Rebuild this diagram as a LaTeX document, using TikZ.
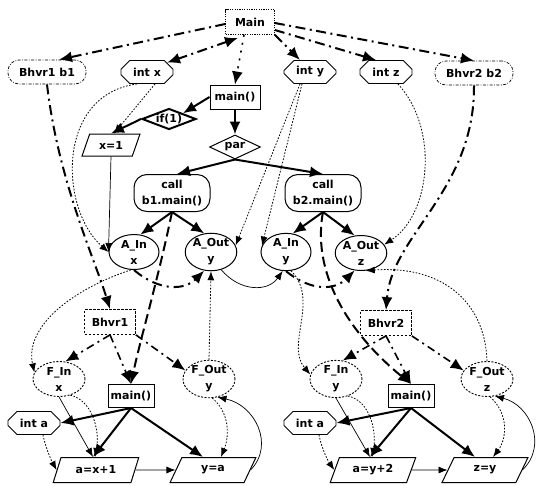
\documentclass[tikz,border=0pt]{standalone}
\usepackage{fontspec}
\setmainfont{DejaVu Sans}
\usetikzlibrary{arrows.meta,shapes.geometric,shapes.misc}
\begin{document}
\begin{tikzpicture}[x=1pt,y=1pt,
  font=\bfseries\fontsize{11}{16}\selectfont,
  mainbox/.style={draw,line width=0.7pt,dash pattern=on 1.2pt off 1.2pt,minimum width=49pt,minimum height=25pt,inner sep=1pt},
  instbox/.style={draw,line width=0.7pt,rounded corners=11pt,dash pattern=on 3pt off 1.5pt on 0.8pt off 1.5pt,minimum width=78pt,minimum height=24pt,inner sep=1pt},
  varbox/.style={draw,line width=0.9pt,chamfered rectangle,chamfered rectangle xsep=8pt,minimum width=52pt,minimum height=23pt,inner sep=1pt},
  fbox/.style={draw,line width=1pt,minimum width=50pt,minimum height=24pt,inner sep=1pt},
  lfbox/.style={fbox,minimum width=46pt,minimum height=23pt},
  ifd/.style={diamond,draw,line width=2pt,aspect=2.6,minimum width=54pt,minimum height=21pt,inner sep=0pt},
  pard/.style={diamond,draw,line width=1pt,aspect=2.1,minimum width=51pt,minimum height=24pt,inner sep=0pt},
  stmtbox/.style={trapezium,trapezium left angle=65,trapezium right angle=115,trapezium stretches=true,draw,line width=1pt,minimum width=58pt,minimum height=22pt,inner sep=1pt},
  stmtlow/.style={stmtbox,minimum width=86pt,minimum height=25pt},
  callbox/.style={draw,line width=1pt,rounded corners=13pt,minimum width=76pt,minimum height=37pt,align=center,inner sep=1pt},
  aport/.style={ellipse,draw,line width=1pt,minimum width=50pt,minimum height=35pt,inner sep=0pt,align=center},
  fport/.style={ellipse,draw,line width=0.9pt,dash pattern=on 2pt off 1.5pt,minimum width=52pt,minimum height=35pt,inner sep=0pt,align=center},
  bhbox/.style={draw,line width=0.8pt,dash pattern=on 2.5pt off 1.5pt,minimum width=51pt,minimum height=25pt,inner sep=1pt},
  bigtip/.style={-{Latex[length=13pt,width=11pt]}},
  smalltip/.style={-{Latex[length=9pt,width=7pt]}},
  thickline/.style={bigtip,line width=2pt},
  thinline/.style={smalltip,line width=0.7pt},
  dep/.style={smalltip,line width=0.8pt,dash pattern=on 1.6pt off 1.6pt},
  contain/.style={bigtip,line width=2pt,dash pattern=on 10pt off 4.5pt on 2pt off 4.5pt},
  subedge/.style={bigtip,line width=1.6pt,dash pattern=on 8pt off 4.5pt on 2pt off 4.5pt},
  calldash/.style={bigtip,line width=2pt,dash pattern=on 10pt off 5pt},
  flow/.style={bigtip,line width=2pt,dash pattern=on 10pt off 5pt on 2pt off 5pt},
  mainlink/.style={bigtip,line width=1.6pt,dash pattern=on 2pt off 6pt}
]
\useasboundingbox (0,0) rectangle (538,-485);

% nodes
\node[mainbox] (Main) at (250,-22) {Main};
\node[instbox] (b1) at (47,-72) {Bhvr1 b1};
\node[varbox] (ix) at (147,-72) {int x};
\node[varbox] (iy) at (310,-72) {int y};
\node[varbox] (iz) at (386,-72) {int z};
\node[instbox] (b2) at (474,-73) {Bhvr2 b2};
\node[fbox] (m0) at (235,-97) {main()};
\node[ifd] (if1) at (169,-119) {if(1)};
\node[stmtbox] (x1) at (111,-145) {x=1};
\node[pard] (par) at (235,-147) {par};
\node[callbox] (cb1) at (172,-193) {call\\b1.main()};
\node[callbox] (cb2) at (323,-193) {call\\b2.main()};
\node[aport] (Ainx) at (134,-252) {A\_In\\x};
\node[aport] (Aouty) at (211,-252) {A\_Out\\y};
\node[aport] (Ainy) at (286,-252) {A\_In\\y};
\node[aport] (Aoutz) at (361,-253) {A\_Out\\z};
\node[bhbox] (Bh1) at (110,-322) {Bhvr1};
\node[bhbox] (Bh2) at (386,-323) {Bhvr2};
\node[fport] (Finx) at (59,-379) {F\_In\\x};
\node[fport] (Fouty) at (209,-379) {F\_Out\\y};
\node[fport] (Finy) at (336,-379) {F\_In\\y};
\node[fport] (Foutz) at (487,-379) {F\_Out\\z};
\node[lfbox] (mL) at (131,-396) {main()};
\node[lfbox] (mR) at (411,-396) {main()};
\node[varbox] (ia1) at (34,-423) {int a};
\node[varbox] (ia2) at (310,-423) {int a};
\node[stmtlow] (ax1) at (96,-470) {a=x+1};
\node[stmtlow] (ya) at (213,-470) {y=a};
\node[stmtlow] (ay2) at (373,-470) {a=y+2};
\node[stmtlow] (zy) at (485,-470) {z=y};

% Main containment
\draw[contain] ([yshift=-2pt]Main.west) -- ([xshift=12pt]b1.north);
\draw[contain,{Latex[length=13pt,width=11pt]}-{Latex[length=13pt,width=11pt]}] ([xshift=-12pt,yshift=-3pt]Main.south) -- (ix.25);
\draw[contain] (Main.south east) -- ([xshift=-10pt]iy.north);
\draw[contain] ([yshift=-8pt]Main.east) -- ([xshift=-10pt]iz.north);
\draw[contain] ([yshift=-1pt]Main.east) -- (b2.north);
\draw[mainlink] ([xshift=-6pt]Main.south) -- (m0.north);

% control flow
\draw[thickline] (m0.west) -- (if1.north east);
\draw[thickline] (if1.west) -- (x1.north);
\draw[thickline] (m0.south) -- (par.north);
\draw[thickline] (par.south) -- ([xshift=5pt]cb1.north);
\draw[thickline] (par.south) -- (cb2.north);
\draw[thickline] (cb1.south) -- (Ainx.70);
\draw[thickline] (cb1.south) -- (Aouty.110);
\draw[thickline] (cb2.south) -- (Ainy.70);
\draw[thickline] (cb2.south) -- (Aoutz.110);

% variable links
\draw[dep] ([xshift=8pt]ix.south) -- ([xshift=3pt]x1.north);
\draw[dep] ([xshift=-10pt]ix.south) .. controls (55,-95) and (60,-210) .. (Ainx.west);
\draw[thinline] (x1.south) -- (Ainx.west);
\draw[dep] ([xshift=-10pt]iy.south) -- (Aouty.15);
\draw[dep] ([xshift=-8pt]iy.south) -- (Ainy.165);
\draw[dep] ([xshift=12pt]iz.south) .. controls (440,-130) and (430,-215) .. (Aoutz.20);

% port flows
\draw[flow] (Ainx.south) .. controls (160,-292) and (185,-290) .. (Aouty.250);
\draw[flow] (Ainy.south) .. controls (312,-292) and (335,-290) .. (Aoutz.250);
\draw[thinline] (Aouty.-60) .. controls (240,-292) and (268,-292) .. (Ainy.260);
\draw[dep] (Fouty.north) -- (Aouty.south);
\draw[dep] (Foutz.north) .. controls (485,-300) and (440,-265) .. (Aoutz.-75);
\draw[dep] (Ainx.260) .. controls (65,-292) and (25,-330) .. (Finx.165);
\draw[dep] (Ainy.285) .. controls (320,-300) and (285,-345) .. (Finy.170);

% instances
\draw[contain] (b1.south) .. controls (58,-180) and (95,-260) .. (Bh1.north);
\draw[contain] (b2.south) .. controls (475,-190) and (392,-235) .. (Bh2.north);
\draw[calldash] (cb1.south) .. controls (158,-280) and (140,-340) .. (mL.north);
\draw[calldash] (cb2.south) .. controls (312,-270) and (345,-330) .. (mR.north);

% behaviour contents
\draw[subedge] (Bh1.south) -- (Finx.70);
\draw[subedge] (Bh1.south) -- (mL.north);
\draw[subedge] (Bh1.south east) -- (Fouty.160);
\draw[subedge] (Bh2.south) -- (Finy.70);
\draw[subedge] (Bh2.south) -- (mR.north);
\draw[subedge] (Bh2.south east) -- (Foutz.160);

% lower left
\draw[thickline] (mL.south) -- (ia1.east);
\draw[thickline] (mL.south) -- ([xshift=-3pt]ax1.north);
\draw[thickline] (mL.south) -- ([xshift=-10pt]ya.north);
\draw[thinline] (Finx.south) -- ([xshift=-3pt]ax1.north);
\draw[dep] (Finx.-55) .. controls (92,-400) and (100,-430) .. ([xshift=-1pt]ax1.north);
\draw[dep] ([xshift=9pt]ia1.south) .. controls (45,-445) and (50,-458) .. (ax1.west);
\draw[thinline] (ax1.east) -- (ya.west);
\draw[thinline] (ya.east) .. controls (275,-445) and (255,-405) .. (Fouty.-65);
\draw[dep] (Fouty.-80) .. controls (232,-415) and (228,-440) .. ([xshift=8pt]ya.north);

% lower right
\draw[thickline] (mR.south) -- (ia2.east);
\draw[thickline] (mR.south) -- ([xshift=-3pt]ay2.north);
\draw[thickline] (mR.south) -- ([xshift=-10pt]zy.north);
\draw[thinline] (Finy.south) -- ([xshift=-3pt]ay2.north);
\draw[dep] (Finy.-55) .. controls (369,-400) and (377,-430) .. ([xshift=-1pt]ay2.north);
\draw[dep] ([xshift=9pt]ia2.south) .. controls (321,-445) and (326,-458) .. (ay2.west);
\draw[thinline] (ay2.east) -- (zy.west);
\draw[thinline] (zy.east) .. controls (548,-445) and (530,-405) .. (Foutz.-65);
\draw[dep] (Foutz.-80) .. controls (510,-415) and (506,-440) .. ([xshift=8pt]zy.north);
\end{tikzpicture}
\end{document}
